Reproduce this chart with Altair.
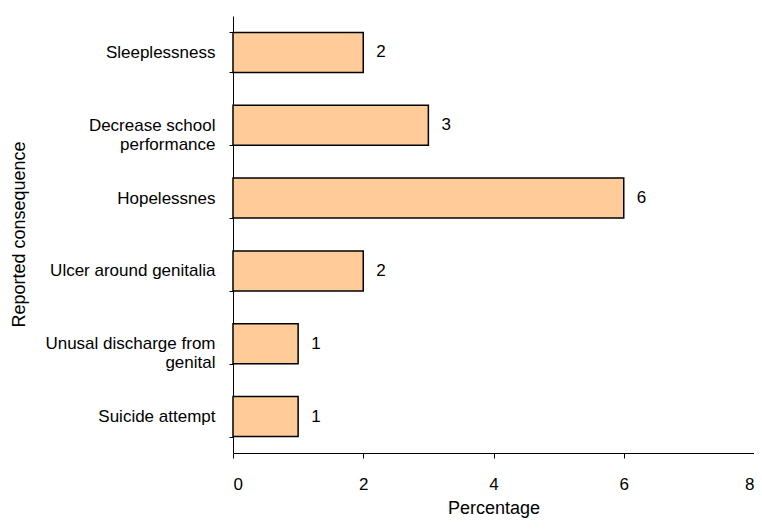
import altair as alt
import pandas as pd

categories = [
    "Sleeplessness",
    "Decrease school\nperformance",
    "Hopelessnes",
    "Ulcer around genitalia",
    "Unusal discharge from\ngenital",
    "Suicide attempt",
]
values = [2, 3, 6, 2, 1, 1]
x_ticks = [0, 2, 4, 6, 8]

df = pd.DataFrame({"consequence": categories, "pct": values})

FONT = "Liberation Sans"

y_enc = alt.Y(
    "consequence:N",
    sort=categories,
    title="Reported consequence",
    scale=alt.Scale(paddingInner=0.45, paddingOuter=0.225),
    axis=alt.Axis(
        labelExpr="split(datum.label, '\\n')",
        domainColor="black",
        tickColor="black",
        tickBand="extent",
        tickSize=4,
        labelFont=FONT,
        labelFontSize=17,
        labelColor="black",
        labelPadding=14,
        labelLineHeight=19,
        labelLimit=400,
        titleFont=FONT,
        titleFontSize=18,
        titleFontWeight="normal",
        titleColor="black",
        titleAngle=270,
        titleAlign="center",
        titleBaseline="middle",
        titleX=-214,
        titleY=218,
        grid=False,
    ),
)

x_enc = alt.X(
    "pct:Q",
    title="Percentage",
    scale=alt.Scale(domain=[0, 8], nice=False),
    axis=alt.Axis(
        values=x_ticks,
        format="d",
        domainColor="black",
        tickColor="black",
        tickSize=5,
        labelFont=FONT,
        labelFontSize=17,
        labelColor="black",
        labelPadding=18,
        titleFont=FONT,
        titleFontSize=18,
        titleFontWeight="normal",
        titleColor="black",
        titleBaseline="alphabetic",
        titleY=60,
        grid=False,
    ),
)

base = alt.Chart(df).encode(y=y_enc)

bars = base.mark_bar(fill="#FFCC99", stroke="black", strokeWidth=1.5).encode(x=x_enc)

labels = base.mark_text(
    align="left", baseline="middle", dx=13, font=FONT, fontSize=17, color="black"
).encode(x=alt.X("pct:Q"), text=alt.Text("pct:Q"))

chart = (
    alt.layer(bars, labels)
    .properties(
        width=521,
        height=437,
        autosize=alt.AutoSizeParams(type="none"),
        padding={"left": 225, "top": 8, "right": 0, "bottom": 68},
    )
    .configure_view(stroke=None)
)

chart.save("out.html", embed_options={"renderer": "svg", "actions": False})
